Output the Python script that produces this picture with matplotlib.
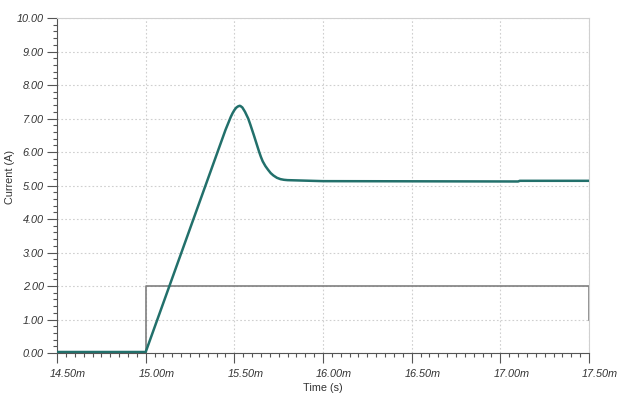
import matplotlib
matplotlib.use("Agg")
import matplotlib.pyplot as plt
from matplotlib.ticker import MultipleLocator, FuncFormatter
from matplotlib.transforms import ScaledTranslation

# time in ms, current in A
time_ms = [14.50, 14.99, 15.00, 15.45, 15.48, 15.49, 15.50, 15.51, 15.52, 15.53,
           15.535, 15.545, 15.56, 15.578, 15.59, 15.61, 15.625, 15.64, 15.65, 15.66,
           15.675, 15.69, 15.705, 15.72, 15.74, 15.76, 15.78, 15.80, 16.00, 17.10,
           17.11, 17.50]
current = [0.03, 0.03, 0.03, 6.66, 7.05, 7.16, 7.25, 7.32, 7.36, 7.38,
           7.37, 7.33, 7.20, 7.00, 6.82, 6.50, 6.25, 6.00, 5.85, 5.72,
           5.58, 5.47, 5.37, 5.30, 5.23, 5.19, 5.17, 5.16, 5.13, 5.12,
           5.14, 5.14]

step_time = [14.50, 15.00, 15.00, 17.50, 17.50]
step_value = [0.0, 0.0, 2.0, 2.0, 1.0]


def main():
    plt.rcParams["font.family"] = ["Liberation Sans", "DejaVu Sans"]
    fig = plt.figure(figsize=(6.2, 4.01), dpi=100)
    ax = fig.add_axes([0.092, 0.1197, 0.858, 0.8354])

    ax.plot(step_time, step_value, color="#7f7f7f", lw=1.2, zorder=2)
    ax.plot(time_ms, current, color="#22706b", lw=1.8, zorder=3,
            solid_joinstyle="round")

    ax.set_xlim(14.5, 17.5)
    ax.set_ylim(0, 10)
    ax.xaxis.set_major_locator(MultipleLocator(0.5))
    ax.xaxis.set_minor_locator(MultipleLocator(0.05))
    ax.yaxis.set_major_locator(MultipleLocator(1.0))
    ax.yaxis.set_minor_locator(MultipleLocator(0.2))
    ax.xaxis.set_major_formatter(FuncFormatter(lambda v, p: f"{v:.2f}m"))
    ax.yaxis.set_major_formatter(FuncFormatter(lambda v, p: f"{v:.2f}"))

    ax.grid(True, which="major", color="#cfcfcf", linestyle=(0, (1.5, 2)), lw=0.8)
    ax.tick_params(which="major", length=7.5, width=0.8, color="#555555",
                   labelsize=7.8, labelcolor="#333333")
    ax.tick_params(which="minor", length=3, width=0.8, color="#555555")
    ax.tick_params(axis="y", pad=2)
    ax.tick_params(axis="x", pad=4)

    for lbl in ax.get_xticklabels() + ax.get_yticklabels():
        lbl.set_fontstyle("italic")
    shift = ScaledTranslation(11 / 100, 0, fig.dpi_scale_trans)
    for lbl in ax.get_xticklabels():
        lbl.set_transform(lbl.get_transform() + shift)

    ax.spines["left"].set_color("#555555")
    ax.spines["bottom"].set_color("#555555")
    ax.spines["top"].set_color("#d0d0d0")
    ax.spines["right"].set_color("#d0d0d0")

    ax.set_xlabel("Time (s)", fontsize=7.8, color="#333333", labelpad=3)
    ax.set_ylabel("Current (A)", fontsize=7.8, color="#333333")
    ax.yaxis.set_label_coords(-0.079, 0.525)

    fig.savefig("out.png", dpi=100)


if __name__ == "__main__":
    main()
